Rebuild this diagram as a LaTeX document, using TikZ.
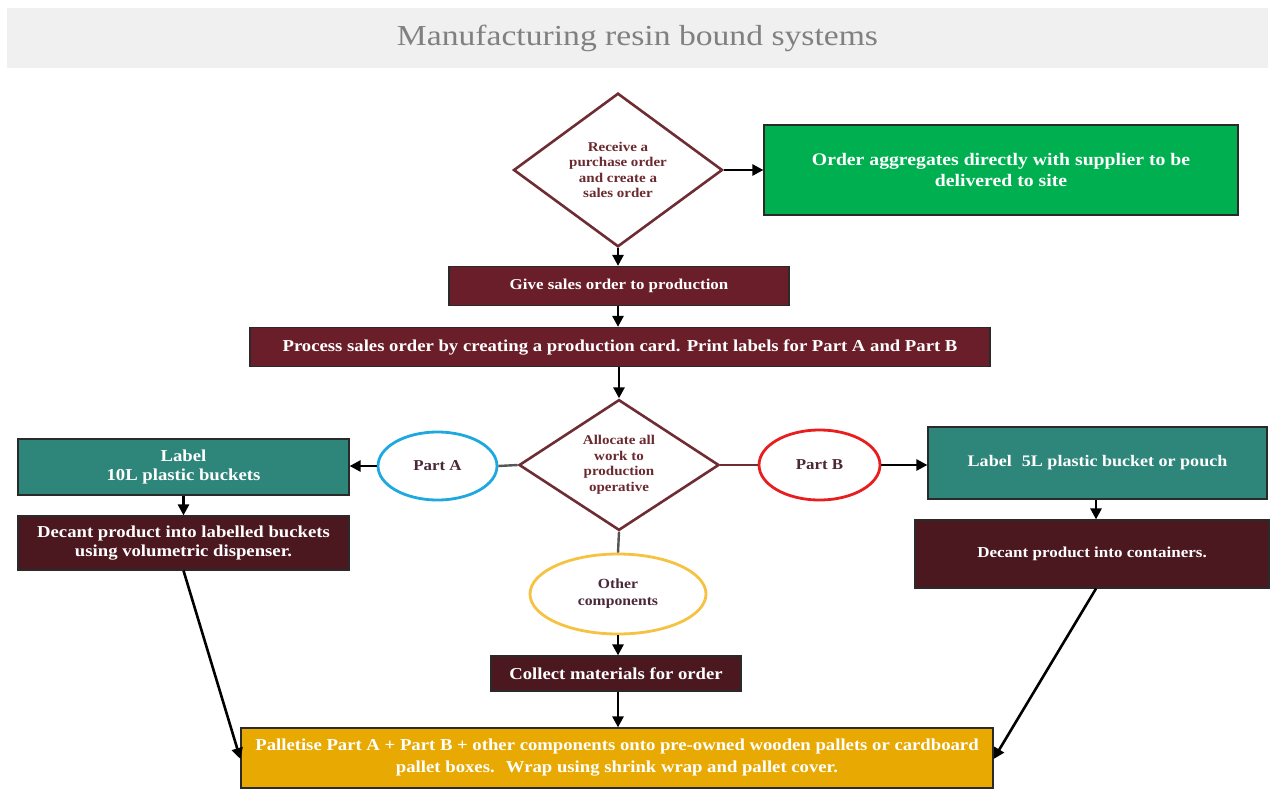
\documentclass[tikz,border=0pt]{standalone}
\usepackage{fontspec}
\setmainfont{Liberation Serif}
\newfontfamily\widefont[FakeStretch=1.12]{Liberation Serif}
\newfontfamily\titlefont[FakeStretch=1.16]{Liberation Serif}
\usetikzlibrary{arrows.meta,shapes.geometric}
\definecolor{titlebg}{HTML}{F0F0F0}
\definecolor{titlefg}{HTML}{808080}
\definecolor{maroonA}{HTML}{6A1E29}
\definecolor{maroonB}{HTML}{4B1820}
\definecolor{tealbox}{HTML}{2E867B}
\definecolor{greenbox}{HTML}{00B050}
\definecolor{goldbox}{HTML}{E8A902}
\definecolor{diaborder}{HTML}{6E2C33}
\definecolor{diatext}{HTML}{6B2A30}
\definecolor{elltext}{HTML}{4A2838}
\definecolor{partAblue}{HTML}{1EA8E0}
\definecolor{partBred}{HTML}{E81E1E}
\definecolor{otheryellow}{HTML}{F5C242}
\definecolor{connGray}{HTML}{555555}
\definecolor{boxedge}{HTML}{2A2A2A}
\tikzset{
  box/.style={rectangle, draw=boxedge, line width=1.2pt, inner sep=0pt, align=center,
    text=white, font=\widefont\bfseries\fontsize{16.7}{19}\selectfont},
  decision/.style={diamond, draw=diaborder, fill=white, line width=2.6pt, inner sep=0pt,
    align=center, text=diatext, font=\widefont\bfseries\fontsize{13.4}{15.5}\selectfont},
  partell/.style={ellipse, fill=white, line width=2.8pt, inner sep=0pt, align=center,
    text=elltext, font=\widefont\bfseries\fontsize{15.1}{17}\selectfont},
  flow/.style={draw=black, line width=2.6pt, -{Triangle[length=11pt,width=11pt]}},
  link/.style={draw=connGray, line width=2.4pt}
}
\begin{document}
\begin{tikzpicture}[x=1pt,y=-1pt]
\useasboundingbox (0,0) rectangle (1273,789);
% title bar
\node[rectangle, fill=titlebg, minimum width=1261pt, minimum height=60pt, inner sep=0pt,
  text=titlefg, font=\titlefont\fontsize{29}{32}\selectfont] (title) at (637.5,38) {Manufacturing resin bound systems};

% top decision
\node[decision, minimum width=209pt, minimum height=147pt] (recv) at (618,170)
  {Receive a\\purchase order\\and create a\\sales order};
\node[box, fill=greenbox, minimum width=474pt, minimum height=90pt,
  font=\widefont\bfseries\fontsize{17.6}{21}\selectfont] (green) at (1001,170)
  {Order aggregates directly with supplier to be\\delivered to site};
\node[box, fill=maroonA, minimum width=340pt, minimum height=39pt,
  font=\widefont\bfseries\fontsize{15.1}{19}\selectfont] (give) at (619,286)
  {Give sales order to production};
\node[box, fill=maroonA, minimum width=740pt, minimum height=39pt] (proc) at (620,347)
  {Process sales order by creating a production card. Print labels for Part A and Part B};

% allocate decision
\node[decision, minimum width=200pt, minimum height=125pt] (alloc) at (619,465)
  {Allocate all\\work to\\production\\operative};

% part ellipses
\node[partell, draw=partAblue, minimum width=119pt, minimum height=68pt] (partA) at (437.5,466) {Part A};
\node[partell, draw=partBred, minimum width=121pt, minimum height=70pt] (partB) at (819.5,465) {Part B};
\node[partell, draw=otheryellow, minimum width=176pt, minimum height=80pt,
  font=\widefont\bfseries\fontsize{14}{17}\selectfont] (other) at (618,594) {Other\\components};

% left branch
\node[box, fill=tealbox, minimum width=331pt, minimum height=56pt] (labA) at (183.5,467)
  {Label\\10L plastic buckets};
\node[box, fill=maroonB, minimum width=331pt, minimum height=54pt] (decA) at (183.5,543)
  {Decant product into labelled buckets\\using volumetric dispenser.};

% right branch
\node[box, fill=tealbox, minimum width=339pt, minimum height=72pt,
  font=\widefont\bfseries\fontsize{16.1}{19}\selectfont] (labB) at (1097.5,463)
  {Label\hspace{0.35em} 5L plastic bucket or pouch};
\node[box, fill=maroonB, minimum width=354pt, minimum height=68pt,
  font=\widefont\bfseries\fontsize{15.2}{19}\selectfont] (decB) at (1092,554)
  {Decant product into containers.};

% centre bottom
\node[box, fill=maroonB, minimum width=250pt, minimum height=35pt] (collect) at (616,673.5)
  {Collect materials for order};
\node[box, fill=goldbox, minimum width=752pt, minimum height=60pt,
  font=\widefont\bfseries\fontsize{16.7}{22}\selectfont] (pallet) at (617,758)
  {Palletise Part A + Part B + other components onto pre-owned wooden pallets or cardboard\\pallet boxes.\hspace{0.3em} Wrap using shrink wrap and pallet cover.};

% connectors
\draw[flow] (recv.east) -- (green.west);
\draw[flow] (recv.south) -- (recv.south |- give.north);
\draw[flow] (give.south -| recv.south) -- (recv.south |- proc.north);
\draw[flow] (proc.south -| alloc.north) -- (alloc.north);
\draw[link] (alloc.west) -- (partA.east);
\draw[link, draw=diaborder] (alloc.east) -- (partB.west);
\draw[link] (alloc.south) -- (other.north);
\draw[flow] (partA.west) -- (labA.east |- partA.west);
\draw[flow] (partB.east) -- (labB.west |- partB.east);
\draw[flow] (labA.south) -- (decA.north);
\coordinate (lbS) at ([xshift=-1.5pt]labB.south);
\draw[flow] (lbS) -- (lbS |- decB.north);
\draw[flow] (other.south) -- (other.south |- collect.north);
\draw[flow] (collect.south -| other.south) -- (other.south |- pallet.north);
\coordinate (pL) at ([yshift=-1pt]pallet.west);
\coordinate (pR) at ([yshift=-1pt]pallet.east);
\draw[flow] (decA.south) -- (pL);
\draw[flow] ([xshift=4pt]decB.south) -- (pR);
\end{tikzpicture}
\end{document}
